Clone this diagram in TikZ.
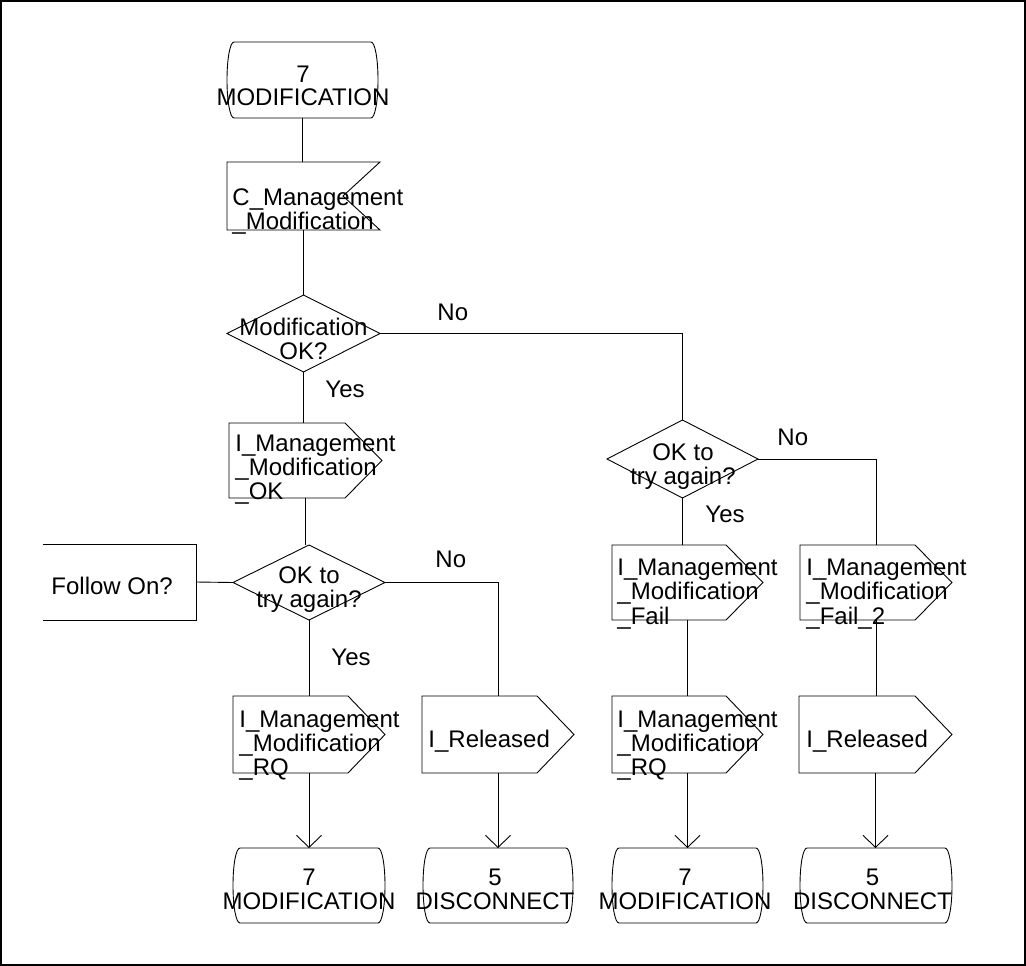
\documentclass[tikz,border=0pt]{standalone}
\usepackage{fontspec}
\setmainfont{Liberation Sans}
\usetikzlibrary{arrows.meta,calc}
\newcommand{\tl}[1]{\begin{tabular}[t]{@{}l@{}}#1\end{tabular}}
\newcommand{\tcn}[1]{\begin{tabular}[t]{@{}c@{}}#1\end{tabular}}
\newcommand{\drawstate}[1]{%
 \draw ([xshift=7pt]#1.north west) -- ([xshift=-7pt]#1.north east)
   .. controls ([xshift=-3pt]#1.north east) and ([yshift=21pt]#1.east) .. (#1.east)
   .. controls ([yshift=-21pt]#1.east) and ([xshift=-3pt]#1.south east) .. ([xshift=-7pt]#1.south east)
   -- ([xshift=7pt]#1.south west)
   .. controls ([xshift=3pt]#1.south west) and ([yshift=-21pt]#1.west) .. (#1.west)
   .. controls ([yshift=21pt]#1.west) and ([xshift=3pt]#1.north west) .. ([xshift=7pt]#1.north west) -- cycle;}
\newcommand{\drawinput}[1]{%
 \draw (#1.north west) -- (#1.north east) -- ([xshift=-37pt]#1.east) -- (#1.south east) -- (#1.south west) -- cycle;}
\newcommand{\drawoutput}[1]{%
 \draw (#1.north west) -- ([xshift=-37pt]#1.north east) -- (#1.east) -- ([xshift=-37pt]#1.south east) -- (#1.south west) -- cycle;}
\newcommand{\drawdiamond}[1]{%
 \draw (#1.north) -- (#1.east) -- (#1.south) -- (#1.west) -- cycle;}
\begin{document}
\begin{tikzpicture}[x=1pt,y=-1pt,line width=0.9pt,
  sym/.style 2 args={inner sep=0pt,outer sep=0pt,minimum width=#1,minimum height=#2},
  ll/.style={inner sep=0pt,anchor=base west,font=\fontsize{24}{24}\selectfont},
  lc/.style={inner sep=0pt,anchor=base,font=\fontsize{24}{24}\selectfont},
  arr/.style={-{Straight Barb[length=12pt,width=25pt]}}]
\useasboundingbox (0,0) rectangle (1026,966);
\draw[line width=2pt] (1,1) rectangle (1025,965);

% shape nodes
\node[sym={151pt}{76pt}] (s0) at (302.5,80) {};
\node[sym={153pt}{68pt}] (in1) at (303.5,196) {};
\node[sym={153pt}{77pt}] (d1) at (303.5,333.5) {};
\node[sym={153pt}{75pt}] (o1) at (305.5,460.5) {};
\node[sym={152pt}{75pt}] (d2) at (309,582.5) {};
\node[sym={153pt}{76pt}] (fo) at (119.5,582) {};
\node[sym={152pt}{77pt}] (o2) at (309,734.5) {};
\node[sym={152pt}{77pt}] (o3) at (498,734.5) {};
\node[sym={152pt}{75pt}] (s1) at (309,885.5) {};
\node[sym={150pt}{75pt}] (s2) at (498,885.5) {};
\node[sym={151pt}{78pt}] (d3) at (682.5,459) {};
\node[sym={151pt}{75pt}] (o4) at (687.5,582.5) {};
\node[sym={152pt}{75pt}] (o5) at (876,582.5) {};
\node[sym={151pt}{77pt}] (o6) at (687.5,734.5) {};
\node[sym={153pt}{77pt}] (o7) at (875.5,734.5) {};
\node[sym={151pt}{75pt}] (s3) at (687.5,885.5) {};
\node[sym={152pt}{75pt}] (s4) at (876,885.5) {};

\drawstate{s0}
\drawinput{in1}
\drawdiamond{d1}
\drawoutput{o1}
\drawdiamond{d2}
\draw (fo.north west) -- (fo.north east) -- (fo.south east) -- (fo.south west);
\drawoutput{o2}
\drawoutput{o3}
\drawstate{s1}
\drawstate{s2}
\drawdiamond{d3}
\drawoutput{o4}
\drawoutput{o5}
\drawoutput{o6}
\drawoutput{o7}
\drawstate{s3}
\drawstate{s4}

% texts
\node[lc] (t0) at (303,82) {\tcn{7\\MODIFICATION}};
\node[ll] (tin1) at (232,205) {\tl{C\_Management\\\_Modification}};
\node[lc] (td1) at (303.5,335) {\tcn{Modification\\OK?}};
\node[ll] (to1) at (235,451) {\tl{I\_Management\\\_Modification\\\_OK}};
\node[ll] (yes1) at (325,397) {Yes};
\node[ll] (no1) at (437,320) {No};
\node[lc] (td3) at (683,460) {\tcn{OK to\\try again?}};
\node[ll] (no3) at (777,445) {No};
\node[ll] (yes3) at (705,522) {Yes};
\node[ll] (to4) at (617,575) {\tl{I\_Management\\\_Modification\\\_Fail}};
\node[ll] (to5) at (806,575) {\tl{I\_Management\\\_Modification\\\_Fail\_2}};
\node[lc] (td2) at (309,583) {\tcn{OK to\\try again?}};
\node[ll] (tfo) at (51,594) {Follow On?};
\node[ll] (no2) at (435,567) {No};
\node[ll] (yes2) at (331,665) {Yes};
\node[ll] (to2) at (239,727) {\tl{I\_Management\\\_Modification\\\_RQ}};
\node[ll] (to3) at (428,747) {I\_Released};
\node[ll] (to6) at (617,727) {\tl{I\_Management\\\_Modification\\\_RQ}};
\node[ll] (to7) at (806,747) {I\_Released};
\node[lc] (ts1) at (309,885) {\tcn{7\\MODIFICATION}};
\node[lc] (ts2) at (495,885) {\tcn{5\\DISCONNECT}};
\node[lc] (ts3) at (685,885) {\tcn{7\\MODIFICATION}};
\node[lc] (ts4) at (872.5,885) {\tcn{5\\DISCONNECT}};

% connectors
\draw (s0.south) -- (s0.south |- in1.north);
\draw (in1.south) -- (in1.south |- d1.north);
\draw (d1.south) -- (d1.south |- o1.north);
\draw (d1.east) -- (d1.east -| d3.north) -- (d3.north);
\draw (o1.south) -- (o1.south |- d2.north);
\draw (d2.west) -- (fo.east);
\draw (d2.east) -- (d2.east -| o3.north) -- (o3.north);
\draw (d2.south) -- (d2.south |- o2.north);
\draw[arr] (o2.south) -- (s1.north);
\draw[arr] (o3.south) -- (s2.north);
\draw (d3.south) -- (d3.south |- o4.north);
\draw (d3.east) -- (d3.east -| o5.north) -- (o5.north);
\draw (o4.south) -- (o6.north);
\draw (o5.south) -- (o5.south |- o7.north);
\draw[arr] (o6.south) -- (s3.north);
\draw[arr] (o7.south) -- (o7.south |- s4.north);
\end{tikzpicture}
\end{document}
